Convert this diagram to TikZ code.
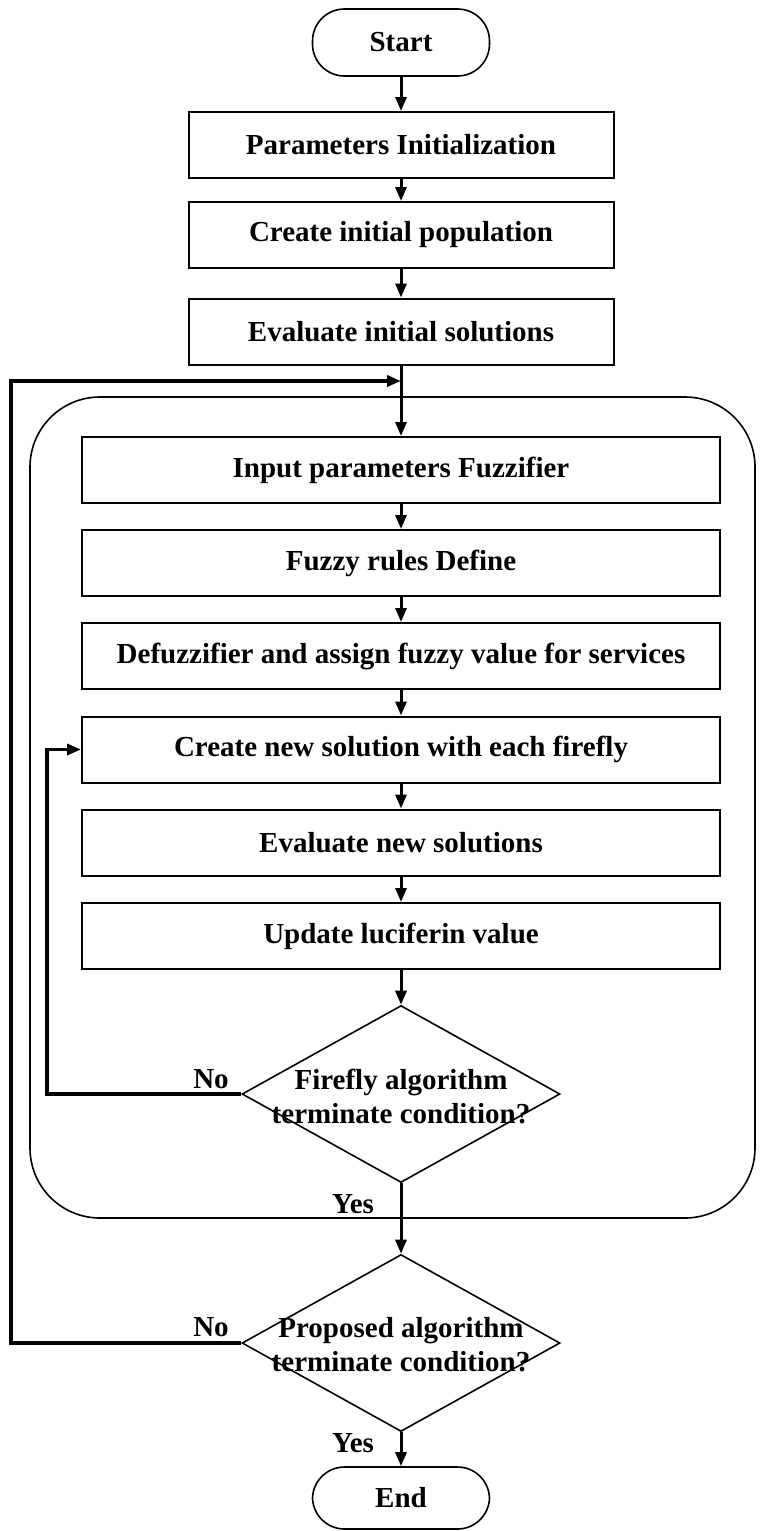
\documentclass[tikz,border=0pt]{standalone}
\usepackage{fontspec}
\setmainfont{Liberation Serif}
\usetikzlibrary{shapes.geometric,arrows.meta}
\begin{document}
\begin{tikzpicture}[x=0.5pt,y=-0.5pt,
  every node/.style={font=\fontsize{14.5}{17}\selectfont\bfseries},
  terminal/.style={draw, line width=0.8pt, rounded corners=16pt,
    minimum width=88.5pt, minimum height=33.5pt, inner sep=0pt},
  outerbox/.style={draw, line width=1pt, minimum width=212.5pt,
    minimum height=33pt, inner sep=0pt},
  innerbox/.style={draw, line width=1pt, minimum width=319pt,
    minimum height=33pt, inner sep=0pt},
  decision/.style={draw, diamond, line width=0.8pt, minimum width=159pt,
    minimum height=88.5pt, inner sep=0pt},
  dtext/.style={align=center, inner sep=0pt},
  tag/.style={inner sep=0pt},
  flow/.style={line width=1.5pt, -{Triangle[length=7pt,width=5.5pt]}},
  loopback/.style={line width=1.8pt, -{Triangle[length=7pt,width=5.5pt]}}
]
\useasboundingbox (0,0) rectangle (761,1531);

% frame around the fuzzy / firefly stage
\node[draw, line width=0.8pt, rounded corners=35pt, minimum width=362.5pt,
      minimum height=410.5pt, inner sep=0pt] (frame) at (392.5,807.5) {};

% main sequence
\node[terminal] (start) at (401,42.5) {Start};
\node[outerbox] (params) at (401,145) {Parameters Initialization};
\node[outerbox] (pop) at (401,235) {Create initial population};
\node[outerbox] (evalinit) at (401,331.5) {Evaluate initial solutions};

\node[innerbox] (fuzz) at (401,470) {Input parameters Fuzzifier};
\node[innerbox] (rules) at (401,563) {Fuzzy rules Define};
\node[innerbox] (defuzz) at (401,656) {Defuzzifier and assign fuzzy value for services};
\node[innerbox] (cnew) at (401,749.5) {Create new solution with each firefly};
\node[innerbox] (evalnew) at (401,842.5) {Evaluate new solutions};
\node[innerbox] (update) at (401,936) {Update luciferin value};

\node[decision] (d1) at (401,1094) {};
\node[dtext] (d1t) at (401,1096) {Firefly algorithm\\terminate condition?};
\node[decision] (d2) at (401,1343) {};
\node[dtext] (d2t) at (401,1345) {Proposed algorithm\\terminate condition?};

\node[terminal, minimum height=31pt] (finish) at (401,1498) {End};

% branch labels
\node[tag] (no1) at (211,1079) {No};
\node[tag] (yes1) at (353,1204) {Yes};
\node[tag] (no2) at (211,1327) {No};
\node[tag] (yes2) at (353,1443) {Yes};

% entry point of the outer loop
\coordinate (join) at (401,381);

% connectors
\draw[flow] (start) -- (params);
\draw[flow] (params) -- (pop);
\draw[flow] (pop) -- (evalinit);
\draw[flow] (evalinit) -- (fuzz);
\draw[flow] (fuzz) -- (rules);
\draw[flow] (rules) -- (defuzz);
\draw[flow] (defuzz) -- (cnew);
\draw[flow] (cnew) -- (evalnew);
\draw[flow] (evalnew) -- (update);
\draw[flow] (update) -- (d1.north);
\draw[flow] (d1.south) -- (d2.north);
\draw[flow] (d2.south) -- (finish.north);

\draw[loopback] (d1.west) -- ++(-194,0) |- (cnew.west);
\draw[loopback] (d2.west) -- ++(-230,0) |- (join);
\end{tikzpicture}
\end{document}
